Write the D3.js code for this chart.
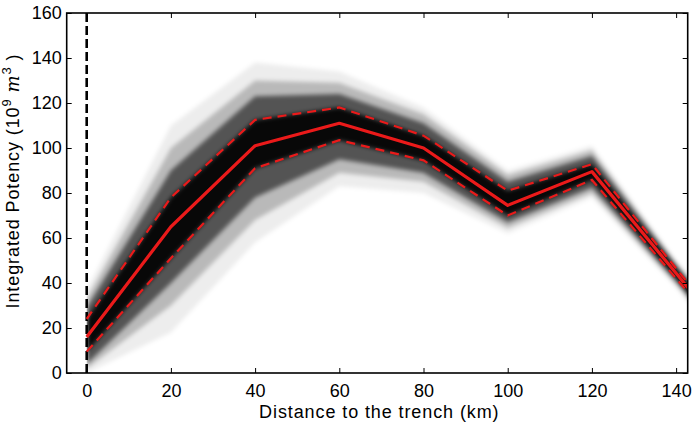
<!DOCTYPE html>
<html>
<head>
<meta charset="utf-8">
<script src="https://cdn.jsdelivr.net/npm/d3@7"></script>
<style>
  body { margin: 0; background: #fff; }
  svg { display: block; font-family: "Liberation Sans", Arial, sans-serif; }
</style>
</head>
<body>
<div id="chart"></div>
<script>
// Distance samples (km) and statistics (10^9 m^3)
const distances = [0, 20, 40, 60, 80, 100, 120, 140, 150];
const medianLine = [16, 65, 101, 111, 100, 74.5, 89.5, 44.3, 21.7];
const upperLine = [24, 78, 112.5, 118, 105.5, 81, 92.8, 46.5, 23.5];
const lowerLine = [9.5, 51, 91, 103.5, 94.5, 70, 85.8, 42, 20];

// envelope of the sampled models (outer -> inner)
const envMin = [0, 18, 58, 83, 80, 62, 78, 38, 15];
const envMax = [37, 110, 138, 134, 118, 90, 101, 50, 27];
const envLow95 = [2, 30, 68, 89, 85, 64.5, 80, 39.5, 17];
const envHigh95 = [33, 100, 130, 129, 115, 88, 99, 49, 26];
const envLow80 = [4, 40, 78, 95, 89, 67, 82.5, 40.8, 18.5];
const envHigh80 = [29, 90, 123, 124, 111, 85, 96.5, 48, 25];

const xTicks = [0, 20, 40, 60, 80, 100, 120, 140];
const yTicks = [0, 20, 40, 60, 80, 100, 120, 140, 160];

const fullWidth = 694, fullHeight = 426;
const margin = { top: 13, right: 6.3, bottom: 53, left: 66.7 };
const width = fullWidth - margin.left - margin.right;
const height = fullHeight - margin.top - margin.bottom;

const svg = d3.select("#chart").append("svg")
    .attr("width", fullWidth).attr("height", fullHeight);

const defs = svg.append("defs");
defs.append("clipPath").attr("id", "plot-clip")
    .append("rect").attr("width", width).attr("height", height);

const x = d3.scaleLinear().domain([-4.75, 142.75]).range([0, width]);
const y = d3.scaleLinear().domain([0, 160]).range([height, 0]);

defs.append("clipPath").attr("id", "band-clip")
    .append("rect").attr("x", x(0)).attr("width", width - x(0)).attr("height", height);
defs.append("filter").attr("id", "soft")
    .attr("x", "-5%").attr("y", "-5%").attr("width", "110%").attr("height", "110%")
    .append("feGaussianBlur").attr("stdDeviation", 2.2);

const g = svg.append("g").attr("transform", `translate(${margin.left},${margin.top})`);

const plot = g.append("g").attr("clip-path", "url(#plot-clip)");

// Envelope bands, stacked so the centre goes nearly black
const band = (lo, hi) => d3.area()
    .x((d, i) => x(distances[i]))
    .y0((d, i) => y(lo[i]))
    .y1((d, i) => y(hi[i]));

const bands = plot.append("g").attr("clip-path", "url(#band-clip)")
    .append("g").attr("filter", "url(#soft)");

[[envMin, envMax, 0.07], [envLow95, envHigh95, 0.22], [envLow80, envHigh80, 0.55],
 [lowerLine, upperLine, 0.9]].forEach(([lo, hi, op]) => {
    bands.append("path").datum(distances)
        .attr("d", band(lo, hi))
        .attr("fill", "#000").attr("opacity", op);
});

// Trench position
plot.append("line")
    .attr("x1", x(0)).attr("x2", x(0))
    .attr("y1", y(0)).attr("y2", y(160))
    .attr("stroke", "#000").attr("stroke-width", 2.6)
    .attr("stroke-dasharray", "9,4");

const line = vals => d3.line().x((d, i) => x(distances[i])).y((d, i) => y(vals[i]))(distances);

[upperLine, lowerLine].forEach(vals => {
    plot.append("path").attr("d", line(vals))
        .attr("fill", "none").attr("stroke", "#ea1a1a")
        .attr("stroke-width", 2.2).attr("stroke-dasharray", "9,6");
});

plot.append("path").attr("d", line(medianLine))
    .attr("fill", "none").attr("stroke", "#ea1a1a").attr("stroke-width", 3.2)
    .attr("stroke-linejoin", "round");

// Axes with inward ticks on all four sides
const tickLen = 5;
const axisStyle = sel => {
    sel.select(".domain").remove();
    sel.selectAll("line").attr("stroke", "#000").attr("stroke-width", 1);
    sel.selectAll("text").style("font-size", "18px")
        .style("font-family", "'Liberation Sans', Arial, sans-serif").attr("fill", "#000");
};

g.append("g").attr("transform", `translate(0,${height})`)
    .call(d3.axisBottom(x).tickValues(xTicks).tickSize(-tickLen).tickPadding(11))
    .call(axisStyle);
g.append("g")
    .call(d3.axisTop(x).tickValues(xTicks).tickSize(-tickLen).tickFormat(""))
    .call(axisStyle);
g.append("g")
    .call(d3.axisLeft(y).tickValues(yTicks).tickSize(-tickLen).tickPadding(5))
    .call(axisStyle);
g.append("g").attr("transform", `translate(${width},0)`)
    .call(d3.axisRight(y).tickValues(yTicks).tickSize(-tickLen).tickFormat(""))
    .call(axisStyle);

g.append("rect").attr("width", width).attr("height", height)
    .attr("fill", "none").attr("stroke", "#000").attr("stroke-width", 1.6);

// Labels
g.append("text")
    .attr("x", x(69.5)).attr("y", height + 45)
    .attr("text-anchor", "middle")
    .style("font-size", "18px").style("letter-spacing", "0.9px")
    .text("Distance to the trench (km)");

const yl = g.append("text")
    .attr("transform", `translate(-48,${height / 2 - 12}) rotate(-90)`)
    .attr("text-anchor", "middle")
    .style("font-size", "18px").style("letter-spacing", "0.9px");
yl.append("tspan").text("Integrated Potency (10");
yl.append("tspan").attr("dy", -8).style("font-size", "13px").text("9");
yl.append("tspan").attr("dy", 8).text(" ");
yl.append("tspan").style("font-style", "italic").style("font-family", "'DejaVu Serif', serif").text("m");
yl.append("tspan").attr("dy", -8).style("font-size", "13px").text("3");
yl.append("tspan").attr("dy", 8).text(" )");
</script>
</body>
</html>
